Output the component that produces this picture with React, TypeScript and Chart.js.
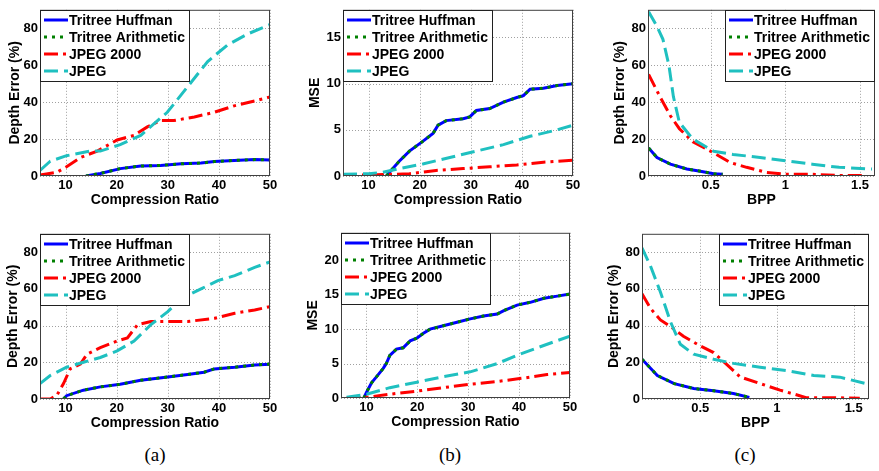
import React, { useEffect, useRef } from "react";
import { Chart, registerables } from "chart.js";
Chart.register(...registerables);

const FONT = "'Liberation Sans', Arial, Helvetica, sans-serif";
const SERIES_NAMES = ["Tritree Huffman", "Tritree Arithmetic", "JPEG 2000", "JPEG"];

// ---- tick labels ----
const CR_TICKS = [10, 20, 30, 40, 50];
const BPP_TICKS = [0.5, 1, 1.5];
const DE_TICKS = [0, 20, 40, 60, 80];
const MSE_TICKS_TOP = [0, 5, 10, 15];
const MSE_TICKS_BOTTOM = [0, 5, 10, 15, 20];

// ---- (a) top: depth error vs compression ratio ----
const A1_TRI_X = [14, 16.8, 20.7, 24.7, 28.6, 32.6, 36.5, 39.1, 43, 47, 50];
const A1_TRI_Y = [0, 1.4, 4.0, 5.4, 5.7, 6.6, 7.0, 7.8, 8.4, 8.9, 8.7];
const A1_J2K_X = [5, 8.3, 10.2, 12.9, 16.2, 20.1, 23.4, 26, 28.6, 31.2, 35.2, 39.1, 43, 47, 50];
const A1_J2K_Y = [0.5, 2, 5, 10, 13.5, 19.5, 22, 26.6, 30, 30, 32, 34.5, 38, 40.6, 42.8];
const A1_JPEG_X = [5, 7, 10.2, 14.8, 16.8, 20.7, 24.7, 29.9, 33.9, 37.8, 41.7, 45.7, 50];
const A1_JPEG_Y = [3, 8, 11, 13.5, 13.5, 17, 22, 34.5, 48.4, 62, 71, 77, 82];

// ---- (b) top: MSE vs compression ratio ----
const B1_TRI_X = [13.5, 14.1, 16, 18, 20.6, 22.6, 23.6, 25.2, 28.5, 29.8, 31.1, 33.7, 36.4, 39, 40.3, 41.6, 44.2, 46.9, 50];
const B1_TRI_Y = [0, 0.4, 1.6, 2.7, 3.75, 4.6, 5.5, 6, 6.2, 6.4, 7.1, 7.3, 8, 8.5, 8.7, 9.4, 9.5, 9.8, 10];
const B1_J2K_X = [5, 10, 12.8, 18, 23.2, 28.5, 33.7, 39, 44.2, 50];
const B1_J2K_Y = [0.1, 0.1, 0.15, 0.25, 0.6, 0.8, 1, 1.2, 1.5, 1.7];
const B1_JPEG_X = [5, 10, 12.8, 16, 20.6, 25.9, 31.1, 36.4, 41.6, 46.9, 50];
const B1_JPEG_Y = [0.2, 0.25, 0.4, 0.8, 1.3, 2, 2.7, 3.4, 4.3, 5, 5.5];

// ---- (c) top: depth error vs BPP ----
const C1_TRI_X = [0.084, 0.14, 0.23, 0.34, 0.43, 0.52, 0.58];
const C1_TRI_Y = [15.2, 10, 6.4, 3.8, 2.6, 1.2, 0.9];
const C1_J2K_X = [0.084, 0.16, 0.23, 0.29, 0.38, 0.52, 0.63, 0.74, 0.87, 1.0, 1.18, 1.36, 1.52];
const C1_J2K_Y = [55, 43, 32.6, 25.6, 18.6, 12.5, 7.3, 4.7, 2, 0.9, 0.9, 0.3, 0.3];
const C1_JPEG_X = [0.084, 0.14, 0.18, 0.22, 0.25, 0.29, 0.38, 0.52, 0.65, 0.83, 1.0, 1.18, 1.36, 1.58];
const C1_JPEG_Y = [89, 81, 74, 60, 43, 29, 20, 13.4, 11.7, 10, 8.2, 6.4, 4.7, 3.8];

// ---- (a) bottom ----
const A2_TRI_X = [9.6, 10.2, 13.5, 16.8, 20.7, 24.7, 30, 33.9, 37.1, 39.1, 43.1, 47, 50];
const A2_TRI_Y = [0, 1.8, 4.8, 6.6, 8, 10.2, 12, 13.4, 14.6, 16.4, 17.3, 18.5, 19];
const A2_J2K_X = [5, 7, 8.3, 9.6, 10.9, 12.9, 14.2, 16.8, 20.1, 22.1, 24.1, 26.7, 30, 33.9, 39.2, 43.1, 47, 50];
const A2_J2K_Y = [0, 0, 2, 8.4, 16.4, 19, 24.4, 28, 31.6, 33.3, 40.5, 42.2, 42.2, 42.2, 44, 46.7, 48.5, 50.3];
const A2_JPEG_X = [5, 7, 10.2, 13.5, 16.8, 20.1, 23.4, 26.7, 30, 32.6, 36.5, 39.8, 43.1, 47, 50];
const A2_JPEG_Y = [8.4, 12.8, 17.3, 20, 22.6, 26.2, 31.6, 40.5, 47.6, 54.7, 60, 64.5, 67.2, 71.7, 74.7];

// ---- (b) bottom ----
const B2_TRI_X = [9.5, 10, 11, 12, 13.3, 13.9, 14.6, 15.9, 17.2, 18.6, 19.9, 21.2, 22.5, 25.1, 27.8, 30.4, 33, 35.7, 37, 39.6, 42.2, 44.9, 47.5, 50];
const B2_TRI_Y = [0, 0.8, 2.2, 3.1, 4.3, 5, 6.2, 7.1, 7.3, 8.3, 8.7, 9.4, 10, 10.5, 11, 11.5, 11.9, 12.2, 12.7, 13.5, 13.9, 14.5, 14.8, 15.1];
const B2_J2K_X = [6.1, 10, 14.6, 19.9, 25.1, 30.4, 35.7, 40.9, 45.5, 50];
const B2_J2K_Y = [0, 0.1, 0.55, 1, 1.5, 2, 2.4, 2.9, 3.4, 3.7];
const B2_JPEG_X = [6.1, 10, 14.6, 19.9, 25.1, 30.4, 35.7, 39.6, 43.6, 50];
const B2_JPEG_Y = [0.1, 0.55, 1.5, 2.3, 3.1, 3.8, 5, 6.2, 7.3, 9];

// ---- (c) bottom ----
const C2_TRI_X = [0.12, 0.22, 0.33, 0.457, 0.587, 0.716, 0.82];
const C2_TRI_Y = [21.7, 12.8, 8.4, 5.7, 4.5, 3, 0.9];
const C2_J2K_X = [0.12, 0.175, 0.24, 0.305, 0.39, 0.5, 0.587, 0.67, 0.76, 0.89, 1.02, 1.11, 1.19, 1.37, 1.54];
const C2_J2K_Y = [57.4, 49.4, 43.1, 39.6, 34.2, 28.9, 25.3, 19, 12, 8.4, 4.8, 2.7, 0.7, 0.7, 0.4];
const C2_JPEG_X = [0.12, 0.175, 0.24, 0.305, 0.37, 0.457, 0.587, 0.716, 0.89, 1.06, 1.24, 1.41, 1.58];
const C2_JPEG_Y = [82.3, 72.5, 58.3, 42.2, 29.8, 24.4, 21.7, 19.4, 17.3, 15.5, 12.8, 11.9, 8.4];

const STYLES = [
  { color: "#0000ff", dash: [] as number[] },
  { color: "#008000", dash: [3, 5] },
  { color: "#ff0000", dash: [14, 5, 3, 5] },
  { color: "#1fc0c0", dash: [14, 6] },
];

type Series = [number[], number[]];
type PanelCfg = {
  area: { l: number; t: number; r: number; b: number };
  titleOff: number;
  xMin: number; xMax: number; xTicks: number[]; xTitle: string;
  yMin: number; yMax: number; yTicks: number[]; yTitle: string;
  legend: "left" | "right";
  series: Series[];
};

const PANELS: PanelCfg[] = [
  {
    area: { l: 40, t: 5, r: 270, b: 176 }, titleOff: 25,
    xMin: 5, xMax: 50, xTicks: CR_TICKS, xTitle: "Compression Ratio",
    yMin: 0, yMax: 90, yTicks: DE_TICKS, yTitle: "Depth Error (%)",
    legend: "left",
    series: [[A1_TRI_X, A1_TRI_Y], [A1_TRI_X, A1_TRI_Y], [A1_J2K_X, A1_J2K_Y], [A1_JPEG_X, A1_JPEG_Y]],
  },
  {
    area: { l: 343, t: 5, r: 573, b: 176 }, titleOff: 28,
    xMin: 5, xMax: 50, xTicks: CR_TICKS, xTitle: "Compression Ratio",
    yMin: 0, yMax: 18, yTicks: MSE_TICKS_TOP, yTitle: "MSE",
    legend: "left",
    series: [[B1_TRI_X, B1_TRI_Y], [B1_TRI_X, B1_TRI_Y], [B1_J2K_X, B1_J2K_Y], [B1_JPEG_X, B1_JPEG_Y]],
  },
  {
    area: { l: 648, t: 5, r: 875, b: 176 }, titleOff: 28,
    xMin: 0.08, xMax: 1.6, xTicks: BPP_TICKS, xTitle: "BPP",
    yMin: 0, yMax: 90, yTicks: DE_TICKS, yTitle: "Depth Error (%)",
    legend: "right",
    series: [[C1_TRI_X, C1_TRI_Y], [C1_TRI_X, C1_TRI_Y], [C1_J2K_X, C1_J2K_Y], [C1_JPEG_X, C1_JPEG_Y]],
  },
  {
    area: { l: 40, t: 229, r: 270, b: 399 }, titleOff: 27,
    xMin: 5, xMax: 50, xTicks: CR_TICKS, xTitle: "Compression Ratio",
    yMin: 0, yMax: 90, yTicks: DE_TICKS, yTitle: "Depth Error (%)",
    legend: "left",
    series: [[A2_TRI_X, A2_TRI_Y], [A2_TRI_X, A2_TRI_Y], [A2_J2K_X, A2_J2K_Y], [A2_JPEG_X, A2_JPEG_Y]],
  },
  {
    area: { l: 341, t: 228, r: 570, b: 398 }, titleOff: 28,
    xMin: 5, xMax: 50, xTicks: CR_TICKS, xTitle: "Compression Ratio",
    yMin: 0, yMax: 24, yTicks: MSE_TICKS_BOTTOM, yTitle: "MSE",
    legend: "left",
    series: [[B2_TRI_X, B2_TRI_Y], [B2_TRI_X, B2_TRI_Y], [B2_J2K_X, B2_J2K_Y], [B2_JPEG_X, B2_JPEG_Y]],
  },
  {
    area: { l: 642, t: 229, r: 869, b: 399 }, titleOff: 28,
    xMin: 0.12, xMax: 1.6, xTicks: BPP_TICKS, xTitle: "BPP",
    yMin: 0, yMax: 90, yTicks: DE_TICKS, yTitle: "Depth Error (%)",
    legend: "right",
    series: [[C2_TRI_X, C2_TRI_Y], [C2_TRI_X, C2_TRI_Y], [C2_J2K_X, C2_J2K_Y], [C2_JPEG_X, C2_JPEG_Y]],
  },
];

const SUB_LABELS = [
  { text: "(a)", cx: 155 },
  { text: "(b)", cx: 450 },
  { text: "(c)", cx: 745 },
];

const matlabPlugin = {
  id: "matlab",
  beforeDatasetsDraw(chart: any) {
    const { ctx, chartArea: a, scales } = chart;
    ctx.save();
    ctx.strokeStyle = "#a0a0a0";
    ctx.lineWidth = 1;
    ctx.setLineDash([1, 2]);
    for (const t of scales.x.ticks) {
      const px = Math.round(scales.x.getPixelForValue(t.value)) + 0.5;
      ctx.beginPath(); ctx.moveTo(px, a.top); ctx.lineTo(px, a.bottom); ctx.stroke();
    }
    for (const t of scales.y.ticks) {
      const py = Math.round(scales.y.getPixelForValue(t.value)) + 0.5;
      ctx.beginPath(); ctx.moveTo(a.left, py); ctx.lineTo(a.right, py); ctx.stroke();
    }
    ctx.restore();
  },
  afterDatasetsDraw(chart: any, _args: any, opts: any) {
    const { ctx, chartArea: a } = chart;
    ctx.save();
    ctx.setLineDash([]);
    ctx.strokeStyle = "#404040";
    ctx.lineWidth = 1;
    ctx.strokeRect(a.left + 0.5, a.top + 0.5, a.right - a.left - 1, a.bottom - a.top - 1);
    // legend
    ctx.font = `bold 14px ${FONT}`;
    const maxW = Math.max(...SERIES_NAMES.map((n) => ctx.measureText(n).width));
    const w = Math.round(29 + maxW + 5);
    const h = 72;
    const x0 = opts.pos === "left" ? Math.round(a.left) : Math.round(a.right) - w;
    const y0 = Math.round(a.top);
    ctx.fillStyle = "#ffffff";
    ctx.fillRect(x0, y0, w, h);
    ctx.strokeStyle = "#202020";
    ctx.strokeRect(x0 + 0.5, y0 + 0.5, w - 1, h - 1);
    SERIES_NAMES.forEach((name, i) => {
      const yy = y0 + 10 + i * 17;
      const st = STYLES[i];
      ctx.save();
      ctx.strokeStyle = st.color;
      ctx.lineWidth = 3;
      ctx.setLineDash(st.dash);
      ctx.beginPath(); ctx.moveTo(x0 + 4, yy); ctx.lineTo(x0 + 28, yy); ctx.stroke();
      ctx.restore();
      ctx.fillStyle = "#000000";
      ctx.textBaseline = "middle";
      ctx.textAlign = "left";
      ctx.fillText(name, x0 + 29, yy + 1);
    });
    ctx.restore();
  },
};

const YW = 40, XH = 40, PT = 5, PR = 12;

function Panel({ p }: { p: PanelCfg }) {
  const ref = useRef<HTMLCanvasElement>(null);
  const left = p.area.l - YW;
  const top = p.area.t - PT;
  const width = p.area.r + PR - left;
  const height = p.area.b + XH - top;

  useEffect(() => {
    const tickFont = { family: FONT, size: 13, weight: "bold" as const };
    const titleFont = { family: FONT, size: 14, weight: "bold" as const };
    const chart = new Chart(ref.current as HTMLCanvasElement, {
      type: "line",
      data: {
        datasets: p.series.map((s, i) => ({
          label: SERIES_NAMES[i],
          data: s[0].map((x, j) => ({ x, y: s[1][j] })),
          borderColor: STYLES[i].color,
          backgroundColor: STYLES[i].color,
          borderWidth: 3,
          borderDash: STYLES[i].dash,
          pointRadius: 0,
          fill: false,
          tension: 0,
          order: 4 - i,
        })),
      },
      options: {
        responsive: false,
        maintainAspectRatio: false,
        animation: false,
        events: [],
        layout: { padding: { left: 0, top: PT, right: PR, bottom: 0 } },
        plugins: {
          legend: { display: false },
          tooltip: { enabled: false },
          matlab: { pos: p.legend },
        } as any,
        scales: {
          x: {
            type: "linear",
            min: p.xMin,
            max: p.xMax,
            afterBuildTicks: (s: any) => { s.ticks = p.xTicks.map((v) => ({ value: v })); },
            afterFit: (s: any) => { s.height = XH; },
            grid: { display: false, drawTicks: false, tickLength: 0 },
            border: { display: false },
            ticks: { padding: 2, font: tickFont, color: "#000", maxRotation: 0, autoSkip: false, callback: (v: any) => String(v) },
            title: { display: true, text: p.xTitle, font: titleFont, color: "#000", padding: { top: 0, bottom: 7.6 } },
          },
          y: {
            type: "linear",
            min: p.yMin,
            max: p.yMax,
            afterBuildTicks: (s: any) => { s.ticks = p.yTicks.map((v) => ({ value: v })); },
            afterFit: (s: any) => { s.width = YW; },
            grid: { display: false, drawTicks: false, tickLength: 0 },
            border: { display: false },
            ticks: { padding: 2, font: tickFont, color: "#000", autoSkip: false, callback: (v: any) => String(v) },
            title: { display: true, text: p.yTitle, font: titleFont, color: "#000", padding: { top: YW - p.titleOff - 8.4, bottom: 0 } },
          },
        },
      } as any,
      plugins: [matlabPlugin as any],
    });
    return () => chart.destroy();
  }, []);

  return (
    <canvas
      ref={ref}
      width={width}
      height={height}
      style={{ position: "absolute", left, top, width, height }}
    />
  );
}

export default function App() {
  return (
    <div
      style={{
        position: "fixed",
        left: 0,
        top: 0,
        width: 879,
        height: 471,
        overflow: "hidden",
        background: "#ffffff",
      }}
    >
      {PANELS.map((p, i) => (
        <Panel key={i} p={p} />
      ))}
      {SUB_LABELS.map((l) => (
        <div
          key={l.text}
          style={{
            position: "absolute",
            left: l.cx - 30,
            width: 60,
            top: 444,
            height: 22,
            lineHeight: "22px",
            textAlign: "center",
            fontFamily: "'Liberation Serif', 'Times New Roman', serif",
            fontSize: 19,
            color: "#000",
          }}
        >
          {l.text}
        </div>
      ))}
    </div>
  );
}
